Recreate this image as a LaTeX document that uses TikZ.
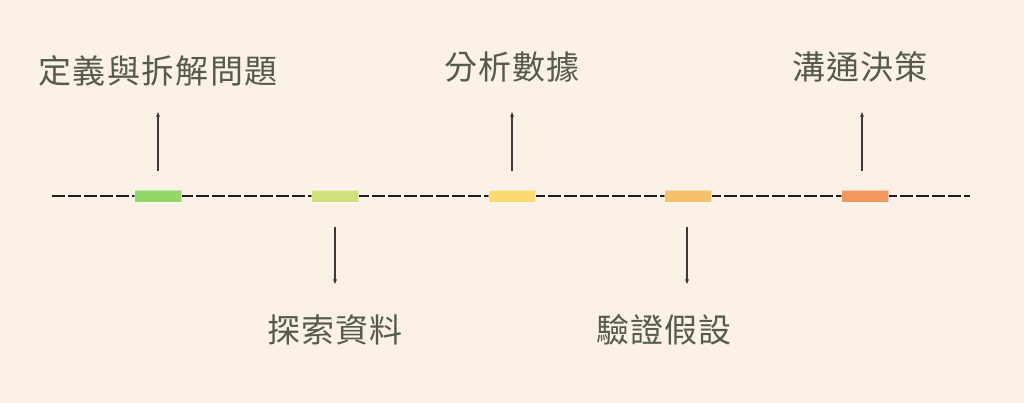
\documentclass[tikz,border=0pt]{standalone}
\usepackage{fontspec}
\newfontfamily\cjkfont[LetterSpace=4]{Noto Sans CJK TC}
\usetikzlibrary{arrows.meta}
\definecolor{bgc}{HTML}{FCF1E6}
\definecolor{txtc}{HTML}{555B4A}
\definecolor{linec}{HTML}{1E1E1E}
\definecolor{arrc}{HTML}{3A3A3A}
\definecolor{c1}{HTML}{93D766}
\definecolor{c2}{HTML}{D1E07A}
\definecolor{c3}{HTML}{F9DB6F}
\definecolor{c4}{HTML}{F5C16B}
\definecolor{c5}{HTML}{F2975D}
\tikzset{
  bar/.style={rectangle, minimum width=47pt, minimum height=12pt, inner sep=0pt, draw=white, draw opacity=0.5, line width=0.8pt},
  lbl/.style={inner sep=0pt, text=txtc, font=\cjkfont\fontsize{33}{33}\selectfont},
  conn/.style={draw=arrc, line width=1.1pt, -{Stealth[length=5pt,width=4pt]}},
  timeline/.style={draw=linec, line width=1.8pt, dash pattern=on 13pt off 3pt}
}
\begin{document}
\begin{tikzpicture}[x=1pt,y=-1pt]
\fill[bgc] (0,0) rectangle (1024,403);
\useasboundingbox (0,0) rectangle (1024,403);
\coordinate (L) at (52,196);
\coordinate (R) at (970,196);
\draw[timeline] (L) -- (R);
\node[bar, fill=c1] (b1) at (158,196) {};
\node[bar, fill=c2] (b2) at (335,196) {};
\node[bar, fill=c3] (b3) at (512,196) {};
\node[bar, fill=c4] (b4) at (688,196) {};
\node[bar, fill=c5] (b5) at (865,196) {};
\node[lbl] (t1) at (158,71) {定義與拆解問題};
\node[lbl] (t2) at (335,330) {探索資料};
\node[lbl] (t3) at (512,67) {分析數據};
\node[lbl] (t4) at (664,330) {驗證假設};
\node[lbl] (t5) at (860,67) {溝通決策};
\coordinate (s1) at (158,171); \coordinate (e1) at (158,112);
\coordinate (s2) at (335,227); \coordinate (e2) at (335,284);
\coordinate (s3) at (512,171); \coordinate (e3) at (512,112);
\coordinate (s4) at (687,227); \coordinate (e4) at (687,284);
\coordinate (s5) at (862,171); \coordinate (e5) at (862,112);
\foreach \i in {1,...,5} {\draw[conn] (s\i) -- (e\i);}
\end{tikzpicture}
\end{document}
